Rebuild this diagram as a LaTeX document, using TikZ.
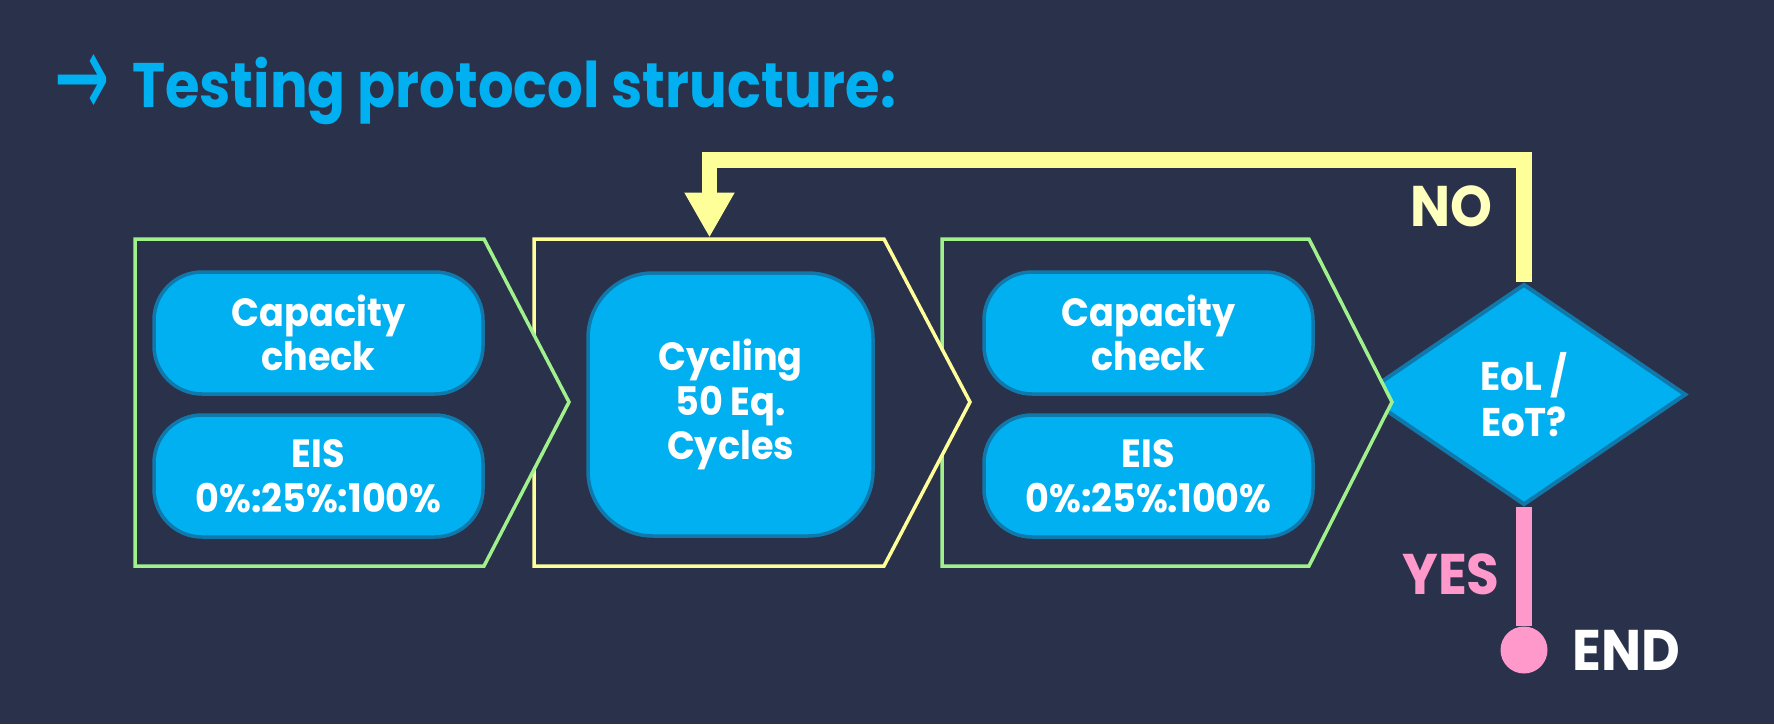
\documentclass[tikz,border=0pt]{standalone}
\usepackage{fontspec}
\setmainfont{Poppins}
\newfontfamily\boxfont[FakeStretch=0.93]{Poppins}
\newfontfamily\titlefont[FakeStretch=0.89]{Poppins}
\newfontfamily\symfont{DejaVu Sans}
\usetikzlibrary{positioning,arrows.meta,shapes.geometric}
\definecolor{bgnavy}{RGB}{42,49,74}
\definecolor{stepcyan}{RGB}{0,176,240}
\definecolor{stepedge}{RGB}{16,120,170}
\definecolor{phasegreen}{RGB}{160,240,140}
\definecolor{phaseyellow}{RGB}{255,255,153}
\definecolor{noyellow}{RGB}{255,255,190}
\definecolor{yespink}{RGB}{255,153,204}
\tikzset{
  phaseframe/.style={line width=0.035cm, line join=miter, fill=bgnavy},
  stepbox/.style={draw=stepedge, line width=0.035cm, fill=stepcyan, rounded corners=0.48cm, minimum width=3.29cm, minimum height=1.22cm, align=center, inner sep=0pt, font=\boxfont\bfseries\fontsize{11.2}{12.7}\selectfont},
  cycbox/.style={stepbox, rounded corners=0.65cm, minimum width=2.85cm, minimum height=2.63cm},
  decision/.style={diamond, draw=stepedge, line width=0.04cm, fill=stepcyan, minimum width=3.24cm, minimum height=2.21cm, inner sep=0pt, align=center, font=\boxfont\bfseries\fontsize{11.4}{12.9}\selectfont},
  looparrow/.style={draw=phaseyellow, line width=0.155cm, line join=miter, -{Triangle[width=0.47cm, length=0.45cm, fill=phaseyellow]}},
  yesline/.style={draw=yespink, line width=0.155cm},
  enddot/.style={circle, fill=yespink, minimum size=0.47cm, inner sep=0pt},
  branchlabel/.style={inner sep=0pt, font=\boxfont\bfseries\fontsize{16.3}{18}\selectfont},
  titletext/.style={inner sep=0pt, text=stepcyan, font=\titlefont\bfseries\fontsize{17.9}{20}\selectfont}
}
\begin{document}
\begin{tikzpicture}[>=Latex, every node/.style={text=white}]
  \fill[bgnavy] (0,0) rectangle (17.74,-7.24);
  \useasboundingbox (0,0) rectangle (17.74,-7.24);
  \node[titletext, anchor=base west] (title) at (0.54,-1.07) {\raisebox{-0.104cm}{\scalebox{1.05}[1.9]{\symfont\mdseries →}}\hspace{0.22cm}Testing protocol structure:};
  \node[decision] (dec) at (15.24,-3.945) {EoL /\\ EoT?};
  \draw[phaseframe, draw=phasegreen] (9.42,-2.39) -- (13.09,-2.39) -- (13.92,-4.02) -- (13.09,-5.66) -- (9.42,-5.66) -- cycle;
  \draw[phaseframe, draw=phaseyellow] (5.34,-2.39) -- (8.84,-2.39) -- (9.70,-4.02) -- (8.84,-5.66) -- (5.34,-5.66) -- cycle;
  \draw[phaseframe, draw=phasegreen] (1.35,-2.39) -- (4.84,-2.39) -- (5.69,-4.02) -- (4.84,-5.66) -- (1.35,-5.66) -- cycle;
  \coordinate (cyctop) at (7.095,-2.375);
  \node[stepbox] (cap1) at (3.185,-3.33) {Capacity\\ check};
  \node[stepbox] (eis1) at (3.185,-4.76) {EIS\\ 0\%:25\%:100\%};
  \node[cycbox] (cyc) at (7.305,-4.045) {Cycling\\ 50 Eq.\\ Cycles};
  \node[stepbox] (cap2) at (11.485,-3.33) {Capacity\\ check};
  \node[stepbox] (eis2) at (11.485,-4.76) {EIS\\ 0\%:25\%:100\%};
  \node[enddot] (end) at (15.24,-6.50) {};
  \draw[looparrow] (dec.north) -- (dec.north |- 0,-1.60) -| (cyctop);
  \draw[yesline] (dec.south) -- (end);
  \node[branchlabel, text=noyellow] (nolabel) at (14.51,-2.06) {NO};
  \node[branchlabel, text=yespink] (yeslabel) at (14.51,-5.74) {YES};
  \node[branchlabel, right=0.24cm of end] (endlabel) {END};
\end{tikzpicture}
\end{document}
